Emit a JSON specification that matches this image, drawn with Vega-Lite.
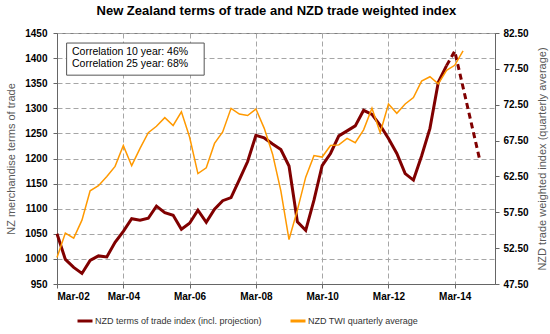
{
  "$schema": "https://vega.github.io/schema/vega-lite/v6.json",
  "width": 438,
  "height": 251,
  "padding": {"left": 5, "top": 5, "right": 5, "bottom": 5},
  "title": {"text": "New Zealand terms of trade and NZD trade weighted index", "fontSize": 13, "fontWeight": "bold", "font": "Liberation Sans", "color": "#000000", "offset": 10, "frame": "bounds"},
  "datasets": {
    "tot": [
      {"date": "2002-03-01", "value": 1050}, {"date": "2002-06-01", "value": 999}, {"date": "2002-09-01", "value": 983}, {"date": "2002-12-01", "value": 971},
      {"date": "2003-03-01", "value": 997}, {"date": "2003-06-01", "value": 1006}, {"date": "2003-09-01", "value": 1004}, {"date": "2003-12-01", "value": 1033},
      {"date": "2004-03-01", "value": 1055}, {"date": "2004-06-01", "value": 1080}, {"date": "2004-09-01", "value": 1077}, {"date": "2004-12-01", "value": 1081},
      {"date": "2005-03-01", "value": 1105}, {"date": "2005-06-01", "value": 1092}, {"date": "2005-09-01", "value": 1087}, {"date": "2005-12-01", "value": 1059},
      {"date": "2006-03-01", "value": 1071}, {"date": "2006-06-01", "value": 1097}, {"date": "2006-09-01", "value": 1073}, {"date": "2006-12-01", "value": 1099},
      {"date": "2007-03-01", "value": 1116}, {"date": "2007-06-01", "value": 1122}, {"date": "2007-09-01", "value": 1158}, {"date": "2007-12-01", "value": 1194},
      {"date": "2008-03-01", "value": 1246}, {"date": "2008-06-01", "value": 1241}, {"date": "2008-09-01", "value": 1229}, {"date": "2008-12-01", "value": 1218},
      {"date": "2009-03-01", "value": 1185}, {"date": "2009-06-01", "value": 1074}, {"date": "2009-09-01", "value": 1057}, {"date": "2009-12-01", "value": 1117},
      {"date": "2010-03-01", "value": 1186}, {"date": "2010-06-01", "value": 1210}, {"date": "2010-09-01", "value": 1245}, {"date": "2010-12-01", "value": 1255},
      {"date": "2011-03-01", "value": 1265}, {"date": "2011-06-01", "value": 1296}, {"date": "2011-09-01", "value": 1288}, {"date": "2011-12-01", "value": 1266},
      {"date": "2012-03-01", "value": 1240}, {"date": "2012-06-01", "value": 1210}, {"date": "2012-09-01", "value": 1170}, {"date": "2012-12-01", "value": 1157},
      {"date": "2013-03-01", "value": 1205}, {"date": "2013-06-01", "value": 1260}, {"date": "2013-09-01", "value": 1352}, {"date": "2013-12-01", "value": 1385}
    ],
    "proj": [
      {"date": "2013-12-01", "value": 1385}, {"date": "2014-03-01", "value": 1414}, {"date": "2014-12-01", "value": 1198}
    ],
    "twi": [
      {"date": "2002-03-01", "value": 51.2}, {"date": "2002-06-01", "value": 54.6}, {"date": "2002-09-01", "value": 53.9}, {"date": "2002-12-01", "value": 56.4},
      {"date": "2003-03-01", "value": 60.5}, {"date": "2003-06-01", "value": 61.2}, {"date": "2003-09-01", "value": 62.5}, {"date": "2003-12-01", "value": 63.9},
      {"date": "2004-03-01", "value": 66.8}, {"date": "2004-06-01", "value": 64.0}, {"date": "2004-09-01", "value": 66.4}, {"date": "2004-12-01", "value": 68.6},
      {"date": "2005-03-01", "value": 69.5}, {"date": "2005-06-01", "value": 70.7}, {"date": "2005-09-01", "value": 69.6}, {"date": "2005-12-01", "value": 71.5},
      {"date": "2006-03-01", "value": 68.0}, {"date": "2006-06-01", "value": 62.9}, {"date": "2006-09-01", "value": 63.7}, {"date": "2006-12-01", "value": 67.1},
      {"date": "2007-03-01", "value": 68.7}, {"date": "2007-06-01", "value": 72.0}, {"date": "2007-09-01", "value": 71.2}, {"date": "2007-12-01", "value": 71.0},
      {"date": "2008-03-01", "value": 71.9}, {"date": "2008-06-01", "value": 69.2}, {"date": "2008-09-01", "value": 65.6}, {"date": "2008-12-01", "value": 60.5},
      {"date": "2009-03-01", "value": 53.7}, {"date": "2009-06-01", "value": 57.8}, {"date": "2009-09-01", "value": 62.4}, {"date": "2009-12-01", "value": 65.4},
      {"date": "2010-03-01", "value": 65.2}, {"date": "2010-06-01", "value": 66.8}, {"date": "2010-09-01", "value": 66.9}, {"date": "2010-12-01", "value": 67.8},
      {"date": "2011-03-01", "value": 67.2}, {"date": "2011-06-01", "value": 69.0}, {"date": "2011-09-01", "value": 72.0}, {"date": "2011-12-01", "value": 68.6},
      {"date": "2012-03-01", "value": 72.6}, {"date": "2012-06-01", "value": 71.3}, {"date": "2012-09-01", "value": 72.6}, {"date": "2012-12-01", "value": 73.5},
      {"date": "2013-03-01", "value": 75.8}, {"date": "2013-06-01", "value": 76.4}, {"date": "2013-09-01", "value": 75.4}, {"date": "2013-12-01", "value": 77.3},
      {"date": "2014-03-01", "value": 78.0}, {"date": "2014-06-01", "value": 80.0}
    ]
  },
  "layer": [
    {
      "encoding": {
        "y": {"type": "quantitative", "scale": {"domain": [950, 1450], "nice": false, "zero": false},
          "axis": {"values": [950, 1000, 1050, 1100, 1150, 1200, 1250, 1300, 1350, 1400, 1450], "format": "d", "grid": true, "title": "NZ merchandise terms of trade", "labelPadding": 6, "titlePadding": 8}}
      },
      "layer": [
        {
          "data": {"name": "tot"},
          "mark": {"type": "line", "strokeWidth": 3},
          "encoding": {
            "x": {"field": "date", "type": "temporal",
              "scale": {"type": "utc", "domain": [{"year": 2002, "month": 3, "date": 1, "utc": true}, {"year": 2015, "month": 5, "date": 19, "utc": true}]},
              "axis": {"title": null, "format": "%b-%y", "grid": true, "labelPadding": 3,
                "values": [
                  {"year": 2002, "month": 3, "date": 1, "utc": true}, {"year": 2004, "month": 3, "date": 1, "utc": true},
                  {"year": 2006, "month": 3, "date": 1, "utc": true}, {"year": 2008, "month": 3, "date": 1, "utc": true},
                  {"year": 2010, "month": 3, "date": 1, "utc": true}, {"year": 2012, "month": 3, "date": 1, "utc": true},
                  {"year": 2014, "month": 3, "date": 1, "utc": true}]}},
            "y": {"field": "value", "type": "quantitative"},
            "color": {"datum": "NZD terms of trade index (incl. projection)", "type": "nominal",
              "scale": {"domain": ["NZD terms of trade index (incl. projection)", "NZD TWI quarterly average"], "range": ["#800000", "#FF9900"]},
              "legend": {"orient": "none", "legendX": 19, "legendY": 279, "direction": "horizontal", "title": null,
                "symbolType": "stroke", "symbolSize": 225, "symbolStrokeWidth": 3, "labelFontSize": 9, "labelFont": "Liberation Sans",
                "labelColor": "#333333", "columnPadding": 22, "labelOffset": 1, "labelLimit": 400}}
          }
        },
        {
          "data": {"name": "proj"},
          "mark": {"type": "line", "strokeWidth": 3, "color": "#800000", "strokeDash": [6, 4]},
          "encoding": {
            "x": {"field": "date", "type": "temporal"},
            "y": {"field": "value", "type": "quantitative"}
          }
        },
        {
          "data": {"values": [{}]},
          "mark": {"type": "rect", "fill": "#ffffff", "stroke": "#555555", "strokeWidth": 1},
          "encoding": {
            "x": {"datum": {"year": 2002, "month": 6, "date": 15, "utc": true}, "type": "temporal"},
            "x2": {"datum": {"year": 2006, "month": 8, "date": 9, "utc": true}},
            "y": {"datum": 1430, "type": "quantitative"},
            "y2": {"datum": 1366}
          }
        },
        {
          "data": {"values": [{}]},
          "mark": {"type": "text", "align": "left", "baseline": "top", "fontSize": 10.5, "font": "Liberation Sans", "color": "#000000", "lineHeight": 12},
          "encoding": {
            "x": {"datum": {"year": 2002, "month": 8, "date": 13, "utc": true}, "type": "temporal"},
            "y": {"datum": 1422, "type": "quantitative"},
            "text": {"value": ["Correlation 10 year: 46%", "Correlation 25 year: 68%"]}
          }
        }
      ]
    },
    {
      "data": {"name": "twi"},
      "mark": {"type": "line", "strokeWidth": 1.5},
      "encoding": {
        "x": {"field": "date", "type": "temporal"},
        "y": {"field": "value", "type": "quantitative", "scale": {"domain": [47.5, 82.5], "nice": false, "zero": false},
          "axis": {"orient": "right", "values": [47.5, 52.5, 57.5, 62.5, 67.5, 72.5, 77.5, 82.5], "format": ".2f", "grid": false,
            "title": "NZD trade weighted index (quarterly average)", "titleAngle": 270, "titleBaseline": "top", "labelPadding": 4, "titlePadding": 8}},
        "color": {"datum": "NZD TWI quarterly average", "type": "nominal"}
      }
    }
  ],
  "resolve": {"scale": {"y": "independent"}},
  "config": {
    "font": "Liberation Sans",
    "view": {"stroke": "#808080"},
    "axis": {
      "labelFont": "Liberation Sans", "labelFontSize": 10, "labelFontWeight": "bold", "labelColor": "#000000",
      "titleFont": "Liberation Sans", "titleFontSize": 11, "titleFontWeight": "normal", "titleColor": "#595959",
      "domainColor": "#666666", "tickColor": "#666666", "tickSize": 4,
      "gridColor": "#a6a6a6", "gridDash": [5, 3], "gridWidth": 1
    }
  }
}
